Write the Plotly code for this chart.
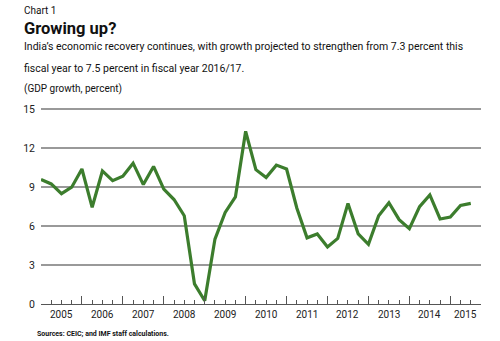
import plotly.graph_objects as go

# Quarterly GDP growth, 2005Q1 .. 2015Q3
quarter_index = list(range(43))
gdp_growth = [9.6, 9.25, 8.5, 9.0, 10.4, 7.45, 10.25, 9.5, 9.85, 10.85, 9.2, 10.6,
              8.85, 8.05, 6.8, 1.55, 0.25, 5.0, 7.05, 8.25, 13.3, 10.35, 9.75, 10.7,
              10.4, 7.4, 5.1, 5.4, 4.4, 5.05, 7.75, 5.4, 4.6, 6.8, 7.8, 6.5,
              5.8, 7.5, 8.4, 6.55, 6.7, 7.6, 7.75]
year_labels = ["2005", "2006", "2007", "2008", "2009", "2010", "2011", "2012", "2013", "2014", "2015"]
year_label_pos = [2, 6, 10, 14, 18, 22, 26, 30, 34, 38, 41.5]
year_starts = [0, 4, 8, 12, 16, 20, 24, 28, 32, 36, 40]
y_ticks = [0, 3, 6, 9, 12, 15]

FONT = "Roboto, Liberation Sans, sans-serif"

W, H = 500, 341
L, R, T, B = 41, 19, 108, 37
pw, ph = W - L - R, H - T - B

def px(x):
    return (x - L) / pw

def py(y):
    return (H - B - y) / ph

fig = go.Figure()
fig.add_trace(go.Scatter(x=quarter_index, y=gdp_growth, mode="lines",
                         line=dict(color="#3c7d2d", width=3.2), hoverinfo="skip"))

fig.update_layout(
    width=W, height=H, margin=dict(l=L, r=R, t=T, b=B),
    paper_bgcolor="white", plot_bgcolor="white", showlegend=False,
    font=dict(family=FONT, color="#222"),
)
fig.update_xaxes(range=[0, 43], tickvals=year_starts, ticktext=[""] * len(year_starts),
                 ticks="inside", ticklen=8, tickwidth=1, tickcolor="#555",
                 minor=dict(ticks="inside", ticklen=4, tickwidth=1, tickcolor="#555", dtick=1, tick0=0, showgrid=False),
                 showline=True, linecolor="#555", linewidth=1, showgrid=False, zeroline=False)
fig.update_yaxes(range=[0, 15.1], tickvals=y_ticks, ticks="", showgrid=True,
                 gridcolor="#999", gridwidth=1.6, zeroline=False, showline=False,
                 tickfont=dict(size=10.5, color="#222"), ticklabelstandoff=5)

for lab, pos in zip(year_labels, year_label_pos):
    fig.add_annotation(x=pos, y=py(314), xref="x", yref="paper", text=lab, showarrow=False,
                       font=dict(size=10, color="#222"), xanchor="center", yanchor="middle")

texts = [
    ("Chart 1", 22, 11, 10, "normal"),
    ("Growing up?", 22, 28, 16.5, "bold"),
    ("India’s economic recovery continues, with growth projected to strengthen from 7.3 percent this", 22, 47, 10.5, "normal"),
    ("fiscal year to 7.5 percent in fiscal year 2016/17.", 22, 68, 10.5, "normal"),
    ("(GDP growth, percent)", 22, 89, 10, "normal"),
    ("Sources: CEIC; and IMF staff calculations.", 35, 334, 7, "bold"),
]
for t, x, y, s, w in texts:
    fig.add_annotation(x=px(x), y=py(y), xref="paper", yref="paper", text=t, showarrow=False,
                       xanchor="left", yanchor="middle",
                       font=dict(size=s, family=FONT, color="#111", weight=w))

fig.write_html("out.html")
